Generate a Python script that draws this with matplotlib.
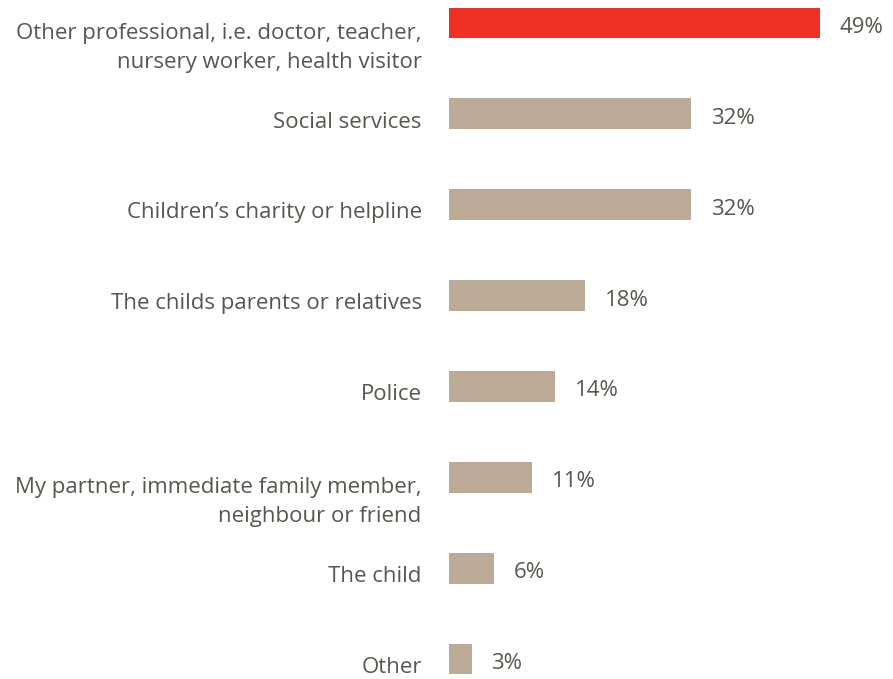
import matplotlib
matplotlib.use("Agg")
import matplotlib.pyplot as plt

# data
categories = [
    "Other professional, i.e. doctor, teacher,\nnursery worker, health visitor",
    "Social services",
    "Children\u2019s charity or helpline",
    "The childs parents or relatives",
    "Police",
    "My partner, immediate family member,\nneighbour or friend",
    "The child",
    "Other",
]
values = [49, 32, 32, 18, 14, 11, 6, 3]
highlight = 0

RED = "#EE3124"
BEIGE = "#BAAA96"
TEXT = "#55584E"

plt.rcParams['font.family'] = ['Open Sans', 'DejaVu Sans']

fig = plt.figure(figsize=(8.93, 6.79), dpi=100)
ax = fig.add_axes([449 / 893, 0, 1 - 449 / 893, 1])

colors = [RED if i == highlight else BEIGE for i in range(len(values))]
pos = list(range(len(values)))
ax.barh(pos, values, height=0.34, color=colors)

ax.set_xlim(0, 58.6)
ax.set_ylim(7 + 20 / 90.86, -23 / 90.86)
ax.axis("off")

for p, v, c in zip(pos, values, categories):
    ax.annotate(f"{v}%", (v, p + 0.05), xytext=(14, 0), textcoords="offset points",
                va="center", ha="left", fontsize=16, color=TEXT)
    nlines = c.count("\n") + 1
    ax.text(-3.6, p + 0.09 + 0.18 * (nlines - 1), c, va="center", ha="right",
            fontsize=16, color=TEXT, linespacing=1.5)

fig.savefig("out.png", dpi=100)
